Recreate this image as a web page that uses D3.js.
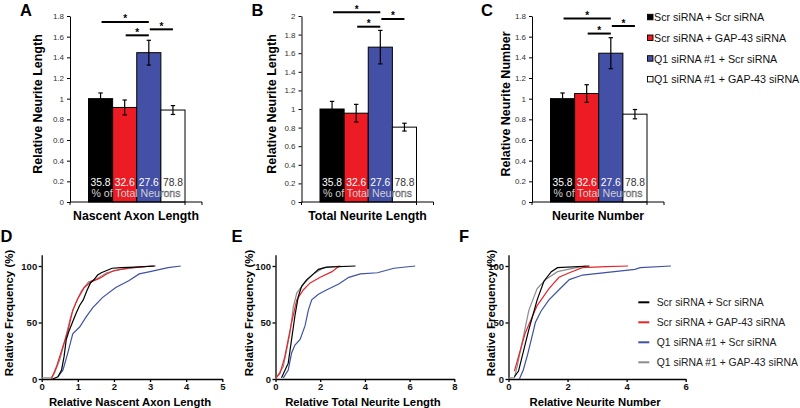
<!DOCTYPE html>
<html><head><meta charset="utf-8">
<script src="https://cdn.jsdelivr.net/npm/d3@7"></script>
<style>body{margin:0;background:#fff}svg{display:block;font-family:Arial,"Liberation Sans",sans-serif}</style>
</head><body><svg id="c" width="800" height="408"></svg>
<script>
// ---------- DATA ----------
const groups = ["Scr siRNA + Scr siRNA", "Scr siRNA + GAP-43 siRNA", "Q1 siRNA #1 + Scr siRNA", "Q1 siRNA #1 + GAP-43 siRNA"];
const barColors = ["#000000", "#ed1c24", "#4350a6", "#ffffff"];
const lineColors = ["#000000", "#e4262b", "#3f51a3", "#8c8c8c"];
const pctNeurons = ["35.8", "32.6", "27.6", "78.8"];
const pctCaption = "% of Total Neurons";

const axonMeans = [1.00, 0.915, 1.445, 0.89];
const axonErr = [0.055, 0.072, 0.12, 0.043];
const totalMeans = [1.00, 0.955, 1.665, 0.805];
const totalErr = [0.082, 0.095, 0.18, 0.042];
const numberMeans = [1.00, 1.05, 1.44, 0.85];
const numberErr = [0.055, 0.085, 0.15, 0.045];

const yTicks18 = [0, 0.2, 0.4, 0.6, 0.8, 1, 1.2, 1.4, 1.6, 1.8];
const yTicks20 = [0, 0.2, 0.4, 0.6, 0.8, 1, 1.2, 1.4, 1.6, 1.8, 2];

// significance brackets: [from group, to group, level]
const sigAxon = [[0, 2, 1.742], [1, 2, 1.613], [2, 3, 1.671]];
const sigTotal = [[0, 2, 2.04], [1, 2, 1.885], [2, 3, 1.968]];
const sigNumber = [[0, 2, 1.775], [1, 2, 1.63], [2, 3, 1.703]];

// cumulative frequency curves [value, percent]
const cdfAxon = [
  [[0.3,0],[0.45,2],[0.55,8],[0.62,20],[0.68,35],[0.75,42],[0.85,50],[0.95,58],[1.05,65],[1.15,70],[1.25,78],[1.35,85],[1.45,88],[1.55,92],[1.65,94],[1.8,96],[1.95,98],[2.2,98.5],[2.6,99],[3.15,100]],
  [[0.27,0],[0.41,11],[0.59,29],[0.73,43],[0.86,61],[1.0,71],[1.18,81],[1.36,86],[1.6,89],[1.8,93],[2.0,96],[2.5,98.5],[3.1,100]],
  [[0.45,2],[0.59,8],[0.73,24],[0.86,40],[1.05,46],[1.23,55],[1.41,63],[1.68,72],[2.05,81],[2.41,87],[2.7,93],[3.0,95],[3.5,98.5],[3.85,100]],
  [[0,1],[0.25,1],[0.35,5],[0.5,17],[0.65,35],[0.8,55],[0.95,68],[1.1,78],[1.3,86],[1.5,88],[1.8,94],[2.2,97],[2.8,99.5],[3.1,100]]
];
const cdfTotal = [
  [[0.27,1],[0.57,14],[0.72,35],[0.87,56],[1.02,73],[1.17,82],[1.4,88],[1.7,93],[1.92,97],[2.3,99],[3.58,100]],
  [[0,0.5],[0.2,5],[0.42,20],[0.57,35],[0.72,50],[0.95,70],[1.25,79],[1.55,85],[2.0,90],[2.53,95],[2.75,98.5],[2.9,100]],
  [[0.35,1],[0.57,8],[0.72,23],[0.87,30],[1.1,35],[1.32,47],[1.47,61],[1.62,70],[1.92,75],[2.3,79],[2.83,84],[3.28,90],[3.8,93],[4.56,94],[5.3,98],[6.25,100]],
  [[0,0],[0.35,11],[0.65,41],[0.8,64],[0.95,76],[1.25,84],[1.7,93],[2.15,98.5],[2.9,100]]
];
const cdfNumber = [
  [[0.2,2],[0.34,7],[0.69,44],[0.97,70],[1.2,86.5],[1.45,95],[1.66,98.5],[2.74,100]],
  [[0.2,7],[0.34,20],[0.57,41],[0.97,65],[1.37,80],[1.71,90],[2.06,94],[2.5,98.5],[3.3,99.5],[4.05,100]],
  [[0.37,0],[0.5,8],[0.65,22],[0.8,38],[0.91,50],[1.1,60],[1.37,70],[1.71,79],[2.06,88],[2.51,92],[3.2,94],[4.28,97],[4.46,98.5],[5.5,100]],
  [[0,1],[0.2,1],[0.3,12],[0.46,32],[0.69,61],[0.97,80],[1.26,88],[1.66,95],[2.29,98.5],[2.63,100]]
];
const freqTicks = [0, 50, 100];
const axonTicks = [0, 1, 2, 3, 4, 5];
const totalTicks = [0, 2, 4, 6, 8];
const numberTicks = [0, 2, 4, 6];

// ---------- DRAW ----------
const svg = d3.select("#c");
const FONT = 'Arial, "Liberation Sans", sans-serif';
const defs = svg.append("defs");
let clipId = 0;

function panelLetter(t, x, y) {
  svg.append("text").attr("x", x).attr("y", y).attr("font-size", 16.5)
    .attr("font-weight", "bold").attr("font-family", FONT).text(t);
}

function barPanel(o) {
  const g = svg.append("g");
  const y = d3.scaleLinear([0, o.yMax], [202, 16]);
  const x = d3.scaleBand(d3.range(4), [o.x0 + 18.5, o.x0 + 115]);
  const yAx = g.append("g").attr("transform", `translate(${o.x0},0)`)
    .call(d3.axisLeft(y).tickValues(o.ticks).tickSize(3).tickSizeOuter(0).tickFormat(d3.format("~g")));
  yAx.attr("font-family", FONT).attr("font-size", 8);
  yAx.selectAll("text").attr("fill", "#333");
  yAx.select(".domain").attr("stroke-width", 1);
  // bars
  g.selectAll("rect.bar").data(o.means).join("rect")
    .attr("x", (d, i) => x(i)).attr("width", x.bandwidth())
    .attr("y", d => y(d)).attr("height", d => y(0) - y(d))
    .attr("fill", (d, i) => barColors[i]).attr("stroke", "#000").attr("stroke-width", 1);
  // x axis
  g.append("line").attr("x1", o.x0).attr("x2", o.x0 + 132).attr("y1", y(0)).attr("y2", y(0)).attr("stroke", "#000");
  [o.x0, o.x0 + 115, o.x0 + 132].forEach(t => g.append("line").attr("x1", t).attr("x2", t)
    .attr("y1", y(0)).attr("y2", y(0) + 3).attr("stroke", "#000"));
  // error bars
  o.means.forEach((m, i) => {
    const cx = x(i) + x.bandwidth() / 2, e = o.errs[i];
    g.append("line").attr("x1", cx).attr("x2", cx).attr("y1", y(m - e)).attr("y2", y(m + e)).attr("stroke", "#000").attr("stroke-width", 1.2);
    [m - e, m + e].forEach(v => g.append("line").attr("x1", cx - 2.2).attr("x2", cx + 2.2)
      .attr("y1", y(v)).attr("y2", y(v)).attr("stroke", "#000").attr("stroke-width", 1.2));
  });
  // significance
  o.sig.forEach(([a, b, lv]) => {
    const xa = x(a) + x.bandwidth() / 2 + 1, xb = x(b) + x.bandwidth() / 2;
    g.append("line").attr("x1", xa).attr("x2", xb).attr("y1", y(lv)).attr("y2", y(lv)).attr("stroke", "#000").attr("stroke-width", 2);
    g.append("text").attr("x", (xa + xb) / 2).attr("y", y(lv) + 0.5).attr("text-anchor", "middle")
      .attr("font-size", 10).attr("font-weight", "bold").attr("font-family", FONT).text("*");
  });
  // clip regions: coloured bars vs white bar
  const whiteX = x(3);
  const cDark = "cd" + (clipId++), cLight = "cl" + (clipId++);
  defs.append("clipPath").attr("id", cDark).append("rect").attr("x", 0).attr("y", 0).attr("width", whiteX).attr("height", 408);
  defs.append("clipPath").attr("id", cLight).append("rect").attr("x", whiteX).attr("y", 0).attr("width", 800 - whiteX).attr("height", 408);
  // percent labels
  pctNeurons.forEach((p, i) => {
    const cx = x(i) + x.bandwidth() / 2;
    g.append("text").attr("x", cx).attr("y", 185.5).attr("text-anchor", "middle").attr("font-size", 10.3)
      .attr("font-family", FONT).attr("fill", i === 3 ? "#333" : "#fff").text(p);
  });
  const cap = x(0) + 3;
  g.append("text").attr("x", cap).attr("y", 197).attr("font-size", 10.6).attr("font-family", FONT)
    .attr("textLength", 89).attr("lengthAdjust", "spacing")
    .attr("fill", "#d2d2d2").attr("clip-path", `url(#${cDark})`).text(pctCaption);
  g.append("text").attr("x", cap).attr("y", 197).attr("font-size", 10.6).attr("font-family", FONT)
    .attr("textLength", 89).attr("lengthAdjust", "spacing")
    .attr("fill", "#a8a8a8").attr("stroke", "#555").attr("stroke-width", 0.35)
    .attr("clip-path", `url(#${cLight})`).text(pctCaption);
  // titles
  g.append("text").attr("x", o.x0 + 66).attr("y", 220).attr("text-anchor", "middle").attr("font-size", 12.3)
    .attr("font-weight", "bold").attr("font-family", FONT).text(o.title);
  g.append("text").attr("transform", `translate(${o.ytx},104) rotate(-90)`).attr("text-anchor", "middle")
    .attr("font-size", 12.5).attr("font-weight", "bold").attr("font-family", FONT).text(o.ytitle);
}

function cdfPanel(o) {
  const g = svg.append("g");
  const y = d3.scaleLinear([0, 110], [379, 254.7]);
  const x = d3.scaleLinear([0, o.xMax], [o.x0, o.x1]);
  const yAx = g.append("g").attr("transform", `translate(${o.x0},0)`)
    .call(d3.axisLeft(y).tickValues(freqTicks).tickSize(3).tickSizeOuter(0).tickPadding(1.5).tickFormat(d3.format("d")));
  const xAx = g.append("g").attr("transform", `translate(0,${y(0)})`)
    .call(d3.axisBottom(x).tickValues(o.ticks).tickSize(3).tickSizeOuter(0).tickPadding(1.5).tickFormat(d3.format("d")));
  [yAx, xAx].forEach(a => {
    a.attr("font-family", FONT).attr("font-size", 9.5).attr("font-weight", "bold");
    a.selectAll("path,line").attr("stroke-width", 1.3);
    a.selectAll("text").attr("fill", "#111");
  });
  const line = d3.line().x(d => x(d[0])).y(d => y(d[1]));
  [3, 2, 1, 0].forEach(i => {
    g.append("path").attr("d", line(o.data[i])).attr("fill", "none")
      .attr("stroke", lineColors[i]).attr("stroke-width", 1.2);
  });
  g.append("text").attr("x", (o.x0 + o.x1) / 2 - 2).attr("y", 405.5).attr("text-anchor", "middle").attr("font-size", 11.3)
    .attr("font-weight", "bold").attr("font-family", FONT).text(o.title);
  g.append("text").attr("transform", `translate(${o.ytx},313) rotate(-90)`).attr("text-anchor", "middle")
    .attr("font-size", 11.5).attr("font-weight", "bold").attr("font-family", FONT).text("Relative Frequency (%)");
}

barPanel({x0: 70, yMax: 1.8, ticks: yTicks18, means: axonMeans, errs: axonErr, sig: sigAxon,
  title: "Nascent Axon Length", ytitle: "Relative Neurite Length", ytx: 42});
barPanel({x0: 301.5, yMax: 2, ticks: yTicks20, means: totalMeans, errs: totalErr, sig: sigTotal,
  title: "Total Neurite Length", ytitle: "Relative Neurite Length", ytx: 275.5});
barPanel({x0: 532, yMax: 1.8, ticks: yTicks18, means: numberMeans, errs: numberErr, sig: sigNumber,
  title: "Neurite Number", ytitle: "Relative Neurite Number", ytx: 510});

cdfPanel({x0: 41.7, x1: 222.3, xMax: 5, ticks: axonTicks, data: cdfAxon, title: "Relative Nascent Axon Length", ytx: 13});
cdfPanel({x0: 275.5, x1: 454.3, xMax: 8, ticks: totalTicks, data: cdfTotal, title: "Relative Total Neurite Length", ytx: 253});
cdfPanel({x0: 508.5, x1: 685.7, xMax: 6, ticks: numberTicks, data: cdfNumber, title: "Relative Neurite Number", ytx: 495});

panelLetter("A", 20, 16);
panelLetter("B", 251.5, 16);
panelLetter("C", 481, 16);
panelLetter("D", 0.5, 242);
panelLetter("E", 231.5, 242);
panelLetter("F", 459, 242);

// top legend (squares)
const legTop = svg.append("g");
groups.forEach((gname, i) => {
  const cy = 17.3 + i * 20.7;
  legTop.append("rect").attr("x", 647.5).attr("y", cy - 3).attr("width", 5.5).attr("height", 5.5)
    .attr("fill", barColors[i]).attr("stroke", "#000").attr("stroke-width", 0.9);
  legTop.append("text").attr("x", 654).attr("y", cy + 3.8).attr("font-size", 10.7).attr("font-family", FONT)
    .attr("fill", "#111").text(gname);
});
// bottom legend (lines)
const legBot = svg.append("g");
groups.forEach((gname, i) => {
  const cy = 302.3 + i * 20;
  legBot.append("line").attr("x1", 638.3).attr("x2", 649.3).attr("y1", cy).attr("y2", cy)
    .attr("stroke", lineColors[i]).attr("stroke-width", 2);
  legBot.append("text").attr("x", 656.7).attr("y", cy + 3.7).attr("font-size", 10.4).attr("font-family", FONT)
    .attr("fill", "#222").text(gname);
});
</script></body></html>
